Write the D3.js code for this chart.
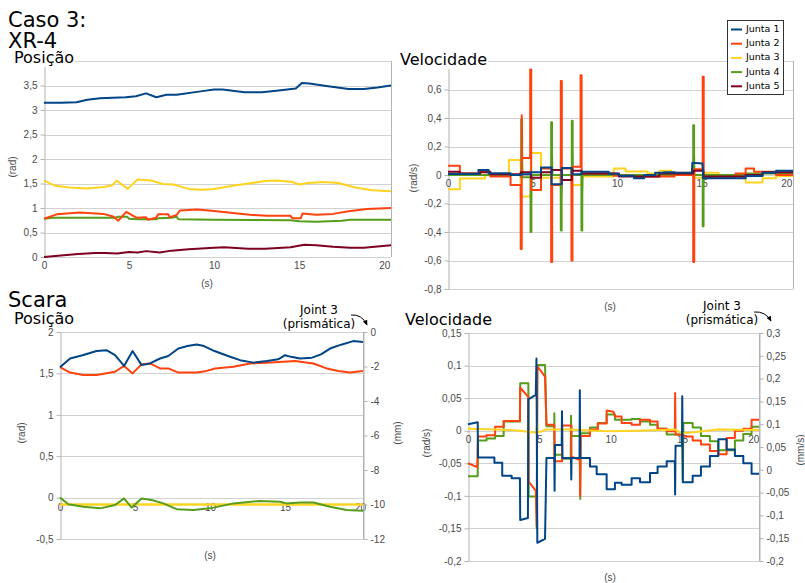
<!DOCTYPE html>
<html>
<head>
<meta charset="utf-8">
<script src="https://cdn.jsdelivr.net/npm/d3@7"></script>
<style>
  body { margin: 0; background: #fff; }
  svg { display: block; }
</style>
</head>
<body>
<svg id="chart" width="805" height="583"></svg>
<script>
// ---------- series identity ----------
const seriesNames  = ["Junta 1", "Junta 2", "Junta 3", "Junta 4", "Junta 5"];
const seriesColors = ["#004586", "#ff420e", "#ffd320", "#579d1c", "#7e0021"];

// ---------- tick values ----------
const xTicks          = [0, 5, 10, 15, 20];
const xrPosGrid       = [0, 0.5, 1, 1.5, 2, 2.5, 3, 3.5, 4];
const xrPosLabels     = [0, 0.5, 1, 1.5, 2, 2.5, 3, 3.5];
const xrVelGrid       = [-0.8, -0.6, -0.4, -0.2, 0, 0.2, 0.4, 0.6, 0.8];
const xrVelLabels     = [-0.8, -0.6, -0.4, -0.2, 0, 0.2, 0.4, 0.6];
const scPosLeftTicks  = [-0.5, 0, 0.5, 1, 1.5, 2];
const scPosRightTicks = [-12, -10, -8, -6, -4, -2, 0];
const scVelLeftTicks  = [-0.2, -0.15, -0.1, -0.05, 0, 0.05, 0.1, 0.15];
const scVelRightTicks = [-0.2, -0.15, -0.1, -0.05, 0, 0.05, 0.1, 0.15, 0.2, 0.25, 0.3];

// ---------- XR-4 position (rad) : [t (s), value] ----------
const xrPosJ1 = [[0,3.15],[1,3.15],[1.9,3.16],[2.55,3.21],[3.3,3.24],[4.8,3.26],[5.4,3.28],[6.0,3.34],[6.6,3.26],[7.2,3.31],[7.8,3.31],[9.2,3.38],[10.0,3.42],[10.5,3.42],[11.2,3.39],[11.8,3.36],[12.8,3.36],[13.8,3.40],[14.8,3.44],[15.16,3.55],[15.6,3.54],[16.6,3.49],[17.9,3.43],[18.8,3.43],[19.6,3.46],[20.4,3.50]];
const xrPosJ2 = [[0,0.78],[0.75,0.87],[2.1,0.91],[3.5,0.88],[4.1,0.82],[4.36,0.74],[4.84,0.92],[5.45,0.80],[6.0,0.81],[6.1,0.76],[6.6,0.80],[6.7,0.87],[7.3,0.87],[7.4,0.81],[7.8,0.86],[8.0,0.95],[9.0,0.97],[10.0,0.94],[12.1,0.86],[13.1,0.84],[14.5,0.84],[14.6,0.79],[15.1,0.79],[15.2,0.89],[16.0,0.86],[17.0,0.88],[18.0,0.94],[19.0,0.98],[20.4,1.0]];
const xrPosJ3 = [[0,1.56],[0.6,1.46],[1.5,1.42],[2.5,1.40],[3.5,1.43],[4.0,1.46],[4.27,1.56],[4.92,1.39],[5.5,1.58],[6.3,1.56],[7.0,1.49],[7.6,1.48],[8.5,1.39],[9.3,1.37],[10.0,1.39],[11.0,1.45],[12.0,1.50],[13.0,1.55],[13.7,1.56],[14.6,1.53],[15.0,1.48],[15.5,1.51],[16.5,1.53],[17.3,1.51],[18.3,1.42],[19.3,1.36],[20.4,1.34]];
const xrPosJ4 = [[0,0.78],[0.5,0.80],[4.2,0.80],[4.3,0.82],[4.9,0.82],[5.0,0.78],[5.5,0.77],[6.6,0.77],[6.7,0.79],[7.5,0.80],[7.8,0.82],[7.9,0.77],[10.0,0.76],[14.5,0.75],[15.0,0.73],[16.0,0.72],[17.5,0.74],[18.0,0.76],[20.4,0.76]];
const xrPosJ5 = [[0,0],[1,0.03],[2,0.06],[3,0.08],[3.6,0.08],[4.3,0.07],[5.0,0.10],[5.5,0.09],[6.0,0.12],[6.8,0.09],[7.5,0.13],[8.5,0.16],[10.0,0.19],[10.6,0.20],[12.0,0.17],[13.0,0.17],[14.5,0.20],[15.3,0.25],[16.0,0.24],[17.0,0.21],[18.0,0.19],[18.8,0.19],[20.4,0.24]];

// ---------- XR-4 velocity (rad/s) ----------
const xrVelJ1 = [[0,0.007],[1.8,0.007],[1.8,0.035],[2.4,0.035],[2.4,0.012],[3.7,0.012],[3.7,0.0],[4.3,0.0],[4.3,0.005],[4.9,0.005],[4.9,0.02],[5.5,0.02],[5.5,0.053],[6.13,0.053],[6.13,-0.065],[6.73,-0.065],[6.73,0.05],[7.32,0.05],[7.32,0.005],[7.9,0.005],[7.9,0.023],[9.5,0.023],[9.5,0.008],[10.1,0.008],[10.1,-0.005],[11.0,-0.005],[11.0,-0.023],[11.6,-0.023],[11.6,0.0],[12.25,0.0],[12.25,0.016],[12.75,0.016],[12.75,0.02],[13.4,0.02],[13.4,0.016],[14.42,0.016],[14.45,0.086],[15.05,0.08],[15.1,-0.023],[17.6,-0.023],[17.6,-0.007],[18.6,-0.007],[18.6,0.016],[19.4,0.016],[19.4,0.03],[20.4,0.03]];
const xrVelJ2 = [[0,0.065],[0.7,0.065],[0.7,0.01],[1.9,0.01],[1.9,0.025],[2.5,0.025],[2.5,-0.01],[3.7,-0.01],[3.7,-0.07],[4.3,-0.07],[4.3,-0.52],[4.36,-0.52],[4.36,0.42],[4.38,0.12],[4.86,0.12],[4.86,0.74],[4.92,0.74],[4.92,-0.105],[5.5,-0.105],[5.5,0.045],[6.1,0.045],[6.1,-0.61],[6.16,-0.61],[6.16,-0.07],[6.67,-0.07],[6.67,0.66],[6.73,0.66],[6.73,0.046],[7.3,0.046],[7.3,-0.60],[7.36,-0.60],[7.36,0.058],[7.84,0.058],[7.84,0.70],[7.9,0.70],[7.9,0.01],[9.8,0.01],[9.8,-0.005],[11.0,-0.005],[11.0,-0.02],[11.6,-0.02],[11.6,-0.01],[13.4,-0.01],[13.4,0.0],[14.5,0.0],[14.5,-0.61],[14.56,-0.61],[14.56,0.04],[15.06,0.04],[15.06,0.69],[15.12,0.69],[15.12,-0.02],[17.0,-0.02],[17.0,0.01],[17.6,0.01],[17.6,0.045],[18.1,0.045],[18.1,0.022],[19.4,0.022],[19.4,0.0],[20.4,0.0]];
const xrVelJ3 = [[0,-0.1],[0.7,-0.1],[0.7,-0.025],[2.2,-0.025],[2.2,0.0],[3.6,0.0],[3.6,0.105],[4.3,0.105],[4.3,-0.15],[4.9,-0.15],[4.9,0.155],[5.5,0.155],[5.5,-0.02],[6.67,-0.02],[6.67,-0.19],[6.71,0.0],[7.3,0.0],[7.3,-0.07],[7.9,-0.07],[7.9,-0.01],[9.8,-0.01],[9.8,0.045],[10.5,0.045],[10.5,0.025],[11.8,0.025],[11.8,0.01],[12.5,0.01],[12.5,0.03],[13.2,0.03],[13.2,0.015],[14.5,0.015],[14.5,-0.02],[15.1,-0.02],[15.1,0.016],[16.0,0.016],[16.0,-0.007],[17.6,-0.007],[17.6,-0.053],[18.6,-0.053],[18.6,-0.023],[19.4,-0.023],[19.4,-0.007],[20.4,-0.007]];
const xrVelJ4 = [[0,0.0],[4.3,0.0],[4.3,-0.015],[4.33,-0.015],[4.33,0.39],[4.38,0.39],[4.38,0.18],[4.4,-0.015],[4.88,-0.015],[4.88,-0.40],[4.93,-0.40],[4.93,-0.2],[4.95,0.0],[6.1,0.0],[6.1,0.37],[6.15,0.37],[6.15,0.18],[6.17,0.0],[6.67,0.0],[6.67,-0.39],[6.72,-0.39],[6.72,-0.18],[6.74,0.0],[7.32,0.0],[7.32,0.38],[7.37,0.38],[7.37,0.18],[7.39,0.0],[7.89,0.0],[7.89,-0.39],[7.94,-0.39],[7.94,-0.15],[7.96,0.0],[14.5,0.0],[14.5,0.35],[14.55,0.35],[14.55,0.17],[14.57,0.0],[15.06,0.0],[15.06,-0.36],[15.11,-0.36],[15.11,-0.13],[15.13,0.0],[17.6,0.0],[17.6,0.01],[20.4,0.01]];
const xrVelJ5 = [[0,0.023],[0.7,0.023],[0.7,0.01],[1.9,0.01],[1.9,0.02],[2.5,0.02],[2.5,0.005],[4.3,0.005],[4.3,0.02],[4.9,0.02],[4.9,-0.02],[5.5,-0.02],[5.5,0.02],[6.13,0.02],[6.13,0.035],[6.73,0.035],[6.73,-0.035],[7.32,-0.035],[7.32,0.03],[7.9,0.03],[7.9,0.01],[10.1,0.01],[10.1,-0.01],[12.5,-0.01],[12.5,0.01],[14.5,0.01],[14.5,0.03],[15.1,0.03],[15.1,-0.01],[17.6,-0.01],[17.6,0.0],[18.6,0.0],[18.6,0.02],[20.4,0.02]];

// ---------- Scara position (rad; joint 3 in mm) ----------
const scPosJ1 = [[0,1.575],[0.67,1.68],[1.5,1.72],[2.44,1.77],[3.1,1.78],[3.67,1.72],[4.27,1.59],[4.84,1.77],[5.44,1.60],[6.0,1.62],[6.67,1.68],[7.22,1.71],[7.89,1.80],[8.5,1.83],[9.11,1.85],[9.6,1.83],[10.3,1.77],[11.2,1.71],[12.0,1.66],[12.9,1.63],[13.8,1.65],[14.55,1.67],[15.0,1.72],[15.4,1.70],[16.0,1.68],[16.8,1.69],[17.4,1.73],[18.0,1.80],[18.8,1.85],[19.55,1.89],[20.2,1.88]];
const scPosJ2 = [[0,1.575],[0.67,1.51],[1.56,1.48],[2.44,1.48],[3.67,1.52],[4.27,1.59],[4.84,1.50],[5.44,1.61],[6.0,1.62],[6.67,1.56],[7.22,1.56],[7.89,1.51],[9.11,1.51],[9.78,1.53],[10.33,1.56],[11.56,1.58],[12.67,1.62],[13.78,1.63],[14.89,1.64],[15.67,1.65],[16.89,1.62],[17.78,1.56],[18.56,1.53],[19.33,1.51],[20.2,1.53]];
const scPosJ3mm = [[0,-10],[20.2,-10]];
const scPosJ4 = [[0,0],[0.56,-0.08],[1.56,-0.11],[2.67,-0.13],[3.67,-0.09],[4.27,-0.01],[4.78,-0.12],[5.44,-0.01],[6.11,-0.03],[6.89,-0.07],[7.78,-0.14],[8.9,-0.15],[10.0,-0.13],[11.56,-0.07],[13.33,-0.04],[14.67,-0.05],[15.1,-0.07],[16.0,-0.06],[16.9,-0.06],[18.0,-0.11],[19.1,-0.15],[20.2,-0.16]];

// ---------- Scara velocity (rad/s) ----------
const scVelJ1 = [[0,0.010],[0.68,0.013],[0.7,-0.041],[1.85,-0.041],[1.85,-0.049],[2.4,-0.049],[2.4,-0.069],[3.06,-0.069],[3.06,-0.073],[3.64,-0.073],[3.66,-0.137],[4.2,-0.134],[4.23,0.048],[4.75,0.055],[4.8,0.111],[4.86,-0.172],[5.4,-0.166],[5.5,-0.042],[6.05,-0.042],[6.07,-0.092],[6.1,-0.022],[6.57,-0.022],[6.59,0.03],[6.62,-0.042],[7.22,-0.042],[7.24,-0.075],[7.26,-0.042],[7.82,-0.042],[7.84,0.062],[7.86,-0.042],[8.55,-0.042],[8.55,-0.055],[9.02,-0.055],[9.02,-0.067],[9.72,-0.067],[9.72,-0.090],[10.3,-0.090],[10.3,-0.080],[10.77,-0.080],[10.77,-0.083],[11.47,-0.083],[11.47,-0.073],[12.06,-0.073],[12.06,-0.079],[12.76,-0.079],[12.76,-0.065],[13.29,-0.065],[13.29,-0.055],[13.93,-0.055],[13.93,-0.047],[14.5,-0.047],[14.52,-0.098],[14.55,-0.023],[15.0,-0.023],[15.02,0.053],[15.06,-0.079],[15.75,-0.079],[15.75,-0.069],[16.33,-0.069],[16.33,-0.055],[16.96,-0.055],[16.96,-0.039],[17.55,-0.039],[17.55,-0.013],[18.13,-0.013],[18.13,-0.029],[18.71,-0.029],[18.71,-0.039],[19.3,-0.039],[19.3,-0.05],[19.88,-0.05],[19.88,-0.066],[20.4,-0.066]];
const scVelJ2 = [[0,-0.05],[0.65,-0.056],[0.7,-0.009],[1.3,-0.009],[1.3,-0.007],[1.9,-0.007],[1.9,0.006],[2.5,0.006],[2.5,0.015],[3.64,0.015],[3.66,0.066],[4.23,0.052],[4.25,-0.078],[4.75,-0.092],[4.82,-0.147],[4.86,0.099],[5.4,0.083],[5.5,0.009],[6.05,0.009],[6.05,-0.047],[6.6,-0.047],[6.6,0.008],[7.25,0.008],[7.25,-0.04],[7.84,-0.045],[7.86,-0.10],[7.9,-0.008],[8.55,-0.008],[8.55,0.002],[9.1,0.002],[9.1,0.011],[9.72,0.011],[9.72,0.031],[10.2,0.029],[10.3,0.022],[10.77,0.022],[10.77,0.012],[11.47,0.012],[11.47,0.009],[12.06,0.009],[12.06,0.017],[12.76,0.017],[12.76,0.014],[13.29,0.014],[13.29,0.003],[13.93,0.003],[13.93,-0.001],[14.5,-0.001],[14.52,0.058],[14.55,-0.006],[15.09,-0.006],[15.09,-0.009],[15.75,-0.009],[15.75,-0.015],[16.33,-0.015],[16.33,-0.021],[16.96,-0.021],[16.96,-0.031],[17.55,-0.031],[17.55,-0.036],[18.13,-0.036],[18.13,-0.011],[18.71,-0.011],[18.71,0.0],[19.3,0.0],[19.3,0.003],[19.88,0.003],[19.88,0.017],[20.4,0.017]];
const scVelJ3 = [[0,0.003],[2.0,0.002],[3.6,0.0],[4.8,-0.003],[4.85,0.012],[4.9,-0.003],[5.5,0.002],[7.0,0.002],[9.7,-0.001],[12.0,0.0],[14.5,0.002],[15.0,-0.004],[16.0,-0.002],[17.5,0.002],[20.4,0.001]];
const scVelJ4 = [[0,-0.07],[0.68,-0.07],[0.7,-0.015],[1.3,-0.015],[1.3,-0.012],[1.9,-0.012],[1.9,-0.008],[2.5,-0.008],[2.5,0.014],[3.64,0.014],[3.66,0.073],[4.23,0.073],[4.25,-0.101],[4.8,-0.101],[4.82,-0.15],[4.86,0.101],[5.4,0.101],[5.5,0.007],[6.05,0.007],[6.05,0.027],[6.08,-0.037],[6.6,-0.037],[6.6,-0.043],[7.2,-0.043],[7.22,0.023],[7.25,-0.008],[7.85,-0.008],[7.87,-0.105],[7.9,-0.004],[8.55,-0.004],[8.55,0.005],[9.1,0.005],[9.1,0.012],[9.72,0.012],[9.72,0.025],[10.3,0.025],[10.3,0.017],[11.47,0.017],[11.47,0.018],[12.06,0.018],[12.06,0.014],[12.76,0.014],[12.76,0.009],[13.29,0.009],[13.29,0.003],[13.93,0.003],[13.93,-0.006],[15.02,-0.006],[15.06,-0.075],[15.1,0.012],[15.75,0.012],[15.75,0.005],[16.33,0.005],[16.33,-0.008],[16.96,-0.008],[16.96,-0.016],[17.55,-0.016],[17.55,-0.030],[18.71,-0.030],[18.71,-0.015],[19.3,-0.015],[19.3,-0.005],[19.88,-0.005],[19.88,0.006],[20.4,0.006]];

// ---------- drawing ----------
const svg = d3.select("#chart");
const fmt = d3.formatLocale({ decimal: ",", thousands: ".", grouping: [3], currency: ["", ""], minus: "-" }).format("~g");
const TICK_FONT = "10px 'Liberation Sans', Arial, sans-serif";
const TITLE_FONT = "'DejaVu Sans', sans-serif";
const AXIS_GRAY = "#b3b3b3";
const GRID_GRAY = "#d2d2d2";
const TEXT_GRAY = "#4a4a4a";

function styleAxis(sel) {
  sel.selectAll("path, line").attr("stroke", AXIS_GRAY);
  sel.selectAll("text").attr("fill", TEXT_GRAY).style("font", TICK_FONT);
}

function makePanel(o) {
  const x = d3.scaleLinear().domain([0, o.xMax]).range([o.left, o.right]);
  const y = d3.scaleLinear().domain(o.yDomain).range([o.bottom, o.top]);
  const g = svg.append("g");

  g.append("g").selectAll("line").data(o.grid).join("line")
    .attr("x1", o.left).attr("x2", o.right)
    .attr("y1", d => Math.round(y(d)) + 0.5).attr("y2", d => Math.round(y(d)) + 0.5)
    .attr("stroke", GRID_GRAY).attr("stroke-width", 1);

  g.append("line")
    .attr("x1", o.right + 0.5).attr("x2", o.right + 0.5)
    .attr("y1", o.top).attr("y2", o.bottom)
    .attr("stroke", AXIS_GRAY);

  const left = g.append("g").attr("transform", `translate(${o.left + 0.5},0)`)
    .call(d3.axisLeft(y).tickValues(o.labels).tickFormat(fmt).tickSize(4).tickSizeOuter(0).tickPadding(3));
  styleAxis(left);

  const xAxisY = o.xAxisAt === undefined ? o.bottom : y(o.xAxisAt);
  const bottom = g.append("g").attr("transform", `translate(0,${xAxisY})`)
    .call(d3.axisBottom(x).tickValues(xTicks).tickFormat(fmt).tickSize(0).tickPadding(o.xPad));
  bottom.select(".domain").remove();
  styleAxis(bottom);

  return { x, y, g };
}

function drawSeries(p, yScale, data, color, width) {
  const line = d3.line().x(d => p.x(d[0])).y(d => yScale(d[1]));
  p.g.append("path").datum(data)
    .attr("d", line)
    .attr("fill", "none")
    .attr("stroke", color)
    .attr("stroke-width", width || 2)
    .attr("stroke-linejoin", "round");
}

function axisTitle(text, x, y, rotate) {
  svg.append("text")
    .attr("transform", `translate(${x},${y})` + (rotate ? " rotate(-90)" : ""))
    .attr("text-anchor", "middle")
    .attr("dominant-baseline", "middle")
    .attr("fill", TEXT_GRAY)
    .style("font", TICK_FONT)
    .text(text);
}

// Panel 1: XR-4 position
const p1 = makePanel({ left: 44, right: 391, top: 61, bottom: 257, xMax: 20.4, yDomain: [0, 4],
  grid: xrPosGrid, labels: xrPosLabels, xPad: 5 });
[[xrPosJ5, 4], [xrPosJ4, 3], [xrPosJ3, 2], [xrPosJ2, 1], [xrPosJ1, 0]]
  .forEach(([d, i]) => drawSeries(p1, p1.y, d, seriesColors[i]));
axisTitle("(rad)", 13, 167, true);
axisTitle("(s)", 207, 284, false);

// Panel 2: XR-4 velocity
const p2 = makePanel({ left: 448, right: 793, top: 61, bottom: 289, xMax: 20.4, yDomain: [-0.8, 0.8],
  grid: xrVelGrid, labels: xrVelLabels, xPad: 5, xAxisAt: 0 });
[[xrVelJ3, 2], [xrVelJ4, 3], [xrVelJ2, 1], [xrVelJ5, 4], [xrVelJ1, 0]]
  .forEach(([d, i]) => drawSeries(p2, p2.y, d, seriesColors[i]));
axisTitle("(rad/s)", 414, 178, true);
axisTitle("(s)", 610, 307, false);

// Panel 3: Scara position (left rad, right mm)
const p3 = makePanel({ left: 60, right: 363, top: 332, bottom: 539, xMax: 20.2, yDomain: [-0.5, 2],
  grid: scPosLeftTicks, labels: scPosLeftTicks, xPad: 6, xAxisAt: 0 });
const p3right = d3.scaleLinear().domain([-12, 0]).range([539, 332]);
const r3 = svg.append("g").attr("transform", "translate(363.5,0)")
  .call(d3.axisRight(p3right).tickValues(scPosRightTicks).tickFormat(fmt).tickSize(4).tickSizeOuter(0).tickPadding(3));
styleAxis(r3);
drawSeries(p3, p3right, scPosJ3mm, seriesColors[2], 2.5);
drawSeries(p3, p3.y, scPosJ4, seriesColors[3]);
drawSeries(p3, p3.y, scPosJ2, seriesColors[1]);
drawSeries(p3, p3.y, scPosJ1, seriesColors[0]);
axisTitle("(rad)", 22, 433, true);
axisTitle("(mm)", 398, 433, true);
axisTitle("(s)", 210, 556, false);

// Panel 4: Scara velocity (left rad/s, right mm/s)
const p4 = makePanel({ left: 468, right: 759, top: 333, bottom: 561, xMax: 20.4, yDomain: [-0.2, 0.15],
  grid: scVelLeftTicks, labels: scVelLeftTicks, xPad: 5, xAxisAt: 0 });
const p4right = d3.scaleLinear().domain([-0.2, 0.3]).range([561, 333]);
const r4 = svg.append("g").attr("transform", "translate(759.5,0)")
  .call(d3.axisRight(p4right).tickValues(scVelRightTicks).tickFormat(fmt).tickSize(4).tickSizeOuter(0).tickPadding(3));
styleAxis(r4);
drawSeries(p4, p4.y, scVelJ4, seriesColors[3]);
drawSeries(p4, p4.y, scVelJ2, seriesColors[1]);
drawSeries(p4, p4.y, scVelJ3, seriesColors[2]);
drawSeries(p4, p4.y, scVelJ1, seriesColors[0]);
axisTitle("(rad/s)", 427, 443, true);
axisTitle("(mm/s)", 801, 450, true);
axisTitle("(s)", 610, 578, false);

// ---------- headings (stacked lines share one text element) ----------
function headingBlock(lines) {
  const t = svg.append("text").attr("fill", "#000").style("font-family", TITLE_FONT);
  const spans = lines.map(l =>
    t.append("tspan").attr("x", l.x).attr("y", l.y).style("font-size", l.size + "px").text(l.text));
  // white backing behind the lines that sit over a gridline
  lines.forEach((l, i) => {
    if (!l.mask) return;
    const b = spans[i].node().getBBox();
    svg.insert("rect", () => t.node())
      .attr("x", b.x - 1).attr("y", b.y + 2).attr("width", b.width + 2).attr("height", b.height - 2)
      .attr("fill", "#fff");
  });
}
headingBlock([
  { text: "Caso 3:", x: 8, y: 27, size: 21 },
  { text: "XR-4", x: 8, y: 48, size: 21 },
  { text: "Posição", x: 14, y: 63, size: 16, mask: true }
]);
headingBlock([{ text: "Velocidade", x: 400, y: 65, size: 16, mask: true }]);
headingBlock([
  { text: "Scara", x: 8, y: 307, size: 21 },
  { text: "Posição", x: 14, y: 324, size: 16 }
]);
headingBlock([{ text: "Velocidade", x: 405, y: 325, size: 16 }]);

// ---------- prismatic joint notes with curved arrows ----------
svg.append("defs").append("marker")
  .attr("id", "arrowHead").attr("viewBox", "0 0 10 10")
  .attr("refX", 8).attr("refY", 5)
  .attr("markerWidth", 6).attr("markerHeight", 6)
  .attr("orient", "auto")
  .append("path").attr("d", "M0,1 L9,5 L0,9 Z").attr("fill", "#000");

function jointNote(cx, y1, y2, ax0, ay0, ax1, ay1) {
  const t = svg.append("text").attr("text-anchor", "middle").attr("fill", "#000")
    .style("font-family", TITLE_FONT).style("font-size", "12px");
  t.append("tspan").attr("x", cx).attr("y", y1 + 4).text("Joint 3");
  t.append("tspan").attr("x", cx).attr("y", y2 + 4).text("(prismática)");
  svg.append("path")
    .attr("d", `M${ax0},${ay0} Q${(ax0 + ax1) / 2 + 3},${ay0 - 1} ${ax1},${ay1}`)
    .attr("fill", "none").attr("stroke", "#000").attr("stroke-width", 1)
    .attr("marker-end", "url(#arrowHead)");
}
jointNote(319, 310, 324, 351, 315, 367, 325);
jointNote(722, 306, 320, 754, 312, 771, 321);

// ---------- legend ----------
const legend = svg.append("g");
legend.append("rect")
  .attr("x", 727.5).attr("y", 20.5).attr("width", 56).attr("height", 74)
  .attr("fill", "#fff").attr("stroke", "#333").attr("stroke-width", 1);
seriesNames.forEach((name, i) => {
  const yy = 29.5 + i * 14.2;
  legend.append("line")
    .attr("x1", 731).attr("x2", 742).attr("y1", yy).attr("y2", yy)
    .attr("stroke", seriesColors[i]).attr("stroke-width", 2);
  legend.append("text")
    .attr("x", 746).attr("y", yy).attr("dominant-baseline", "middle")
    .attr("fill", "#000")
    .style("font-family", TITLE_FONT).style("font-size", "9.5px")
    .text(name);
});
</script>
</body>
</html>
